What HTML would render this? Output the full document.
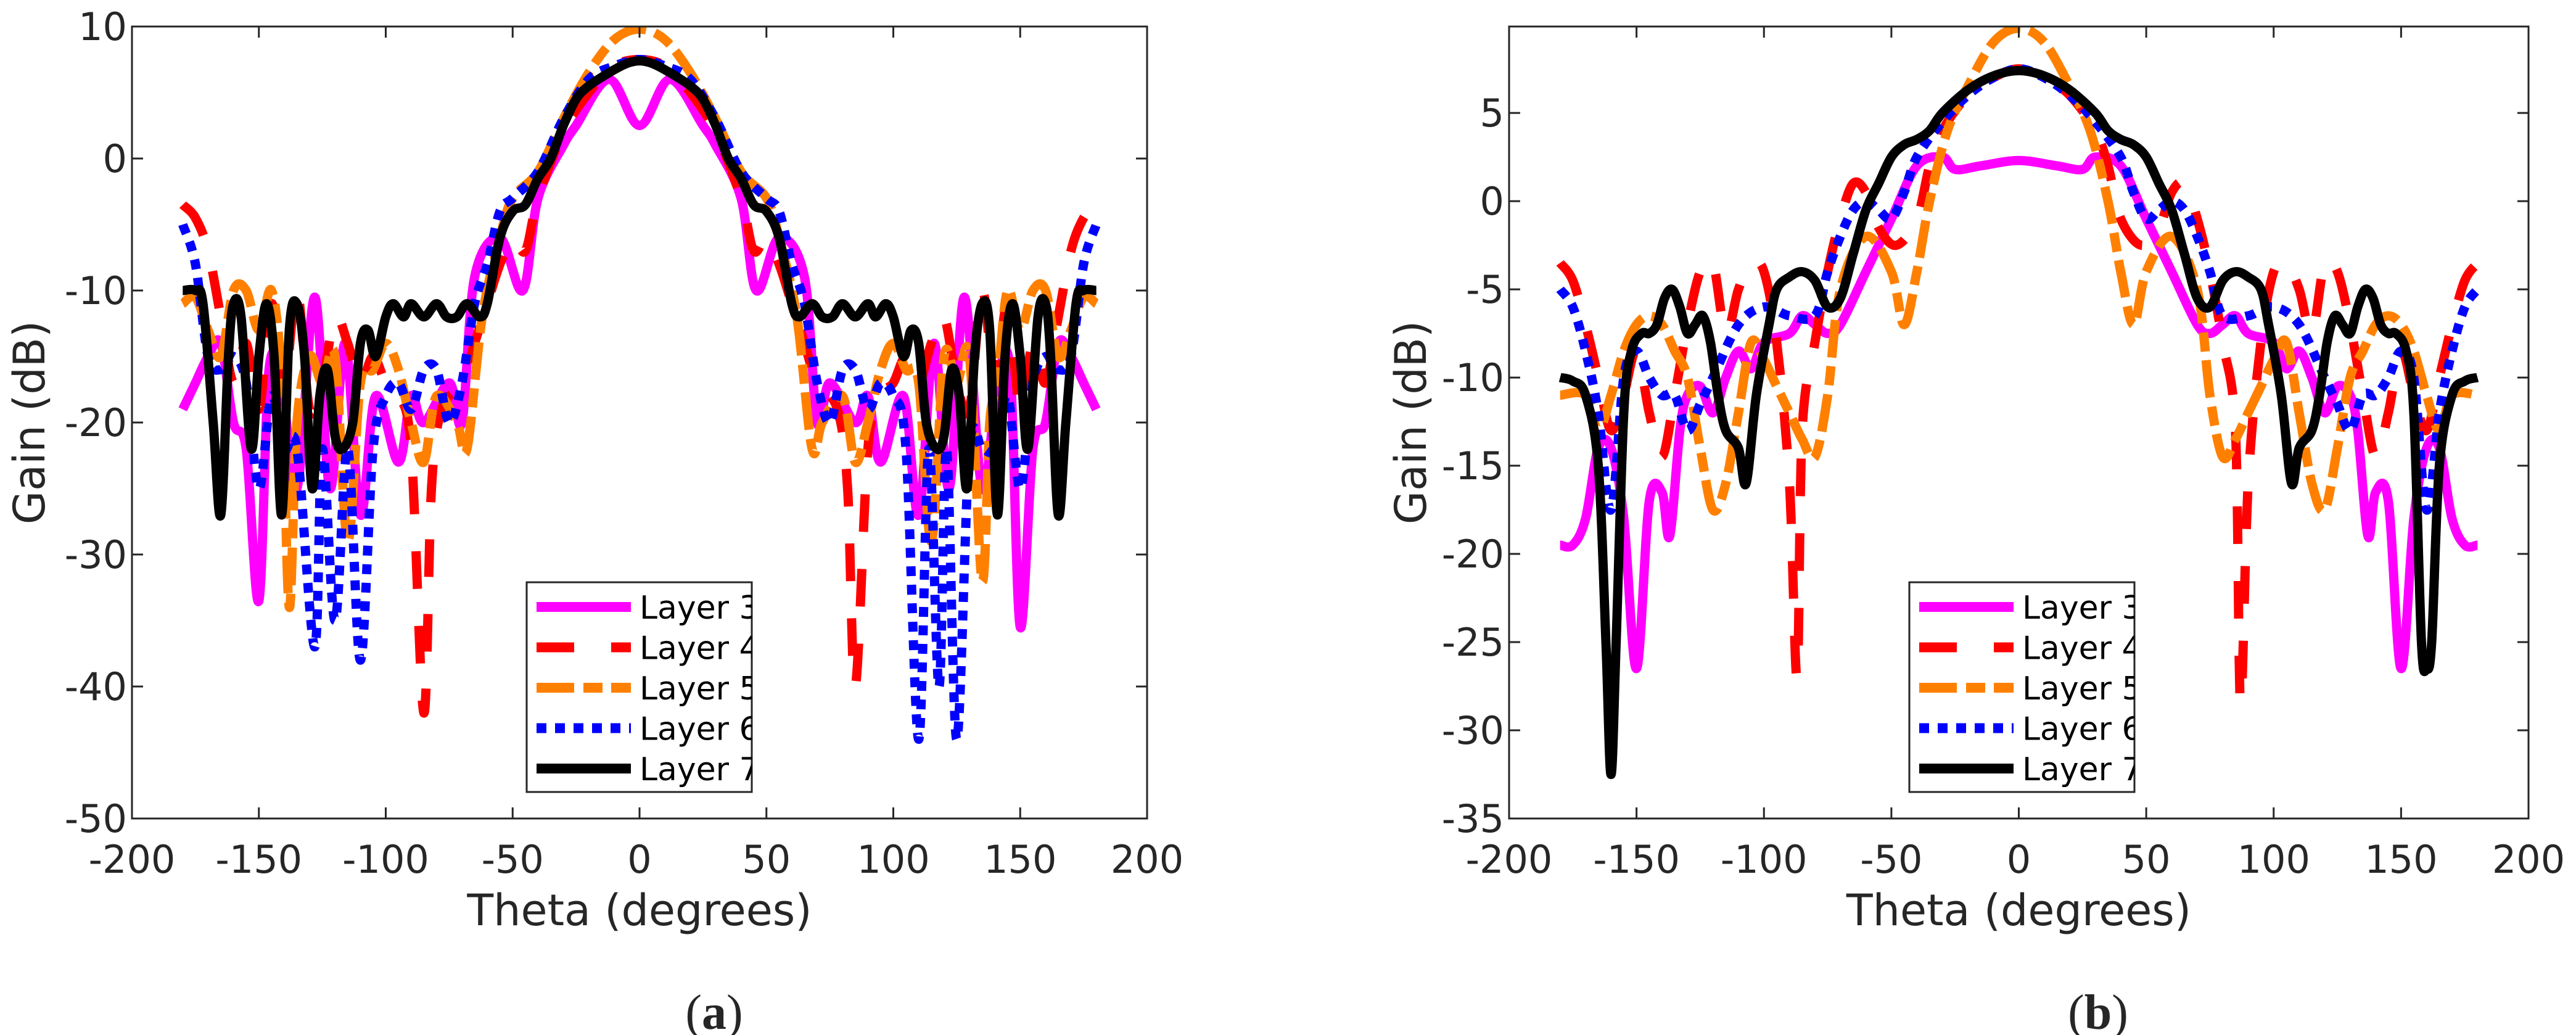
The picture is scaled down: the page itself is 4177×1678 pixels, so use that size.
<!DOCTYPE html>
<html><head><meta charset="utf-8"><style>
html,body{margin:0;padding:0;background:#fff}
svg{display:block}
text{font-family:"DejaVu Sans","Liberation Sans",sans-serif;fill:#262626}
</style></head><body>
<svg id="fig" width="4177" height="1678" viewBox="0 0 4177 1678" xmlns="http://www.w3.org/2000/svg">
<g id="panelA"></g>
<g id="panelB"></g>
</svg>
<script>
const xTicks = [-200,-150,-100,-50,0,50,100,150,200];
const yTicksA = [10,0,-10,-20,-30,-40,-50];
const yTicksB = [5,0,-5,-10,-15,-20,-25,-30,-35];
const legendLabels = ["Layer 3","Layer 4","Layer 5","Layer 6","Layer 7"];

const a3 = [[-180,-19],[-175,-17],[-170,-15],[-165,-14],[-160,-20],[-155,-22],[-150,-33.5],[-146,-16],[-141,-17],[-135,-25],[-128,-10.5],[-122,-25],[-116,-14],[-110,-27],[-104,-18],[-95,-23],[-90,-18],[-85,-20],[-75,-17],[-70,-20],[-65,-9],[-55,-6],[-46,-10],[-40,-3],[-30,1],[-25,2.5],[-12,6],[0,2.5],[12,6],[25,2.5],[30,1],[40,-3],[46,-10],[55,-6],[65,-9],[70,-20],[75,-17],[85,-20],[90,-18],[95,-23],[104,-18],[110,-27],[116,-14],[122,-25],[128,-10.5],[135,-25],[141,-17],[146,-16],[150,-35.5],[155,-22],[160,-20],[165,-14],[170,-15],[175,-17],[180,-19]];
const a4 = [[-180,-3.5],[-175,-4.5],[-170,-7],[-165,-12],[-160,-17],[-155,-14],[-150,-19],[-145,-11],[-140,-17],[-135,-10],[-130,-19],[-125,-17],[-120,-12],[-115,-14],[-110,-17],[-105,-15],[-100,-17],[-95,-18],[-90,-22],[-85,-42],[-82,-25],[-78,-19],[-70,-17],[-65,-14],[-60,-11],[-55,-8],[-50,-6],[-45,-7],[-40,-3],[-30,2],[-20,5],[-10,7],[0,7.5],[10,7],[20,5],[30,2],[40,-3],[45,-7],[50,-6],[55,-8],[60,-11],[65,-14],[70,-17],[78,-19],[82,-25],[85,-40],[90,-22],[95,-18],[100,-17],[105,-15],[110,-17],[115,-14],[120,-12],[125,-17],[130,-19],[135,-10],[140,-17],[145,-11],[150,-19],[155,-14],[160,-17],[165,-12],[170,-7],[175,-4.5],[180,-3.5]];
const a5 = [[-180,-11],[-175,-10.5],[-170,-13],[-165,-15],[-160,-10],[-155,-10],[-150,-13],[-145,-10],[-141,-17],[-138,-34],[-135,-20],[-130,-15],[-125,-17],[-120,-15],[-115,-29],[-110,-17],[-105,-16],[-100,-14],[-95,-16],[-90,-20],[-85,-23],[-80,-18],[-72,-20],[-68,-22],[-62,-12],[-55,-6],[-50,-3],[-40,-1],[-30,3],[-20,6.5],[-10,9],[0,9.8],[10,9],[20,6.5],[30,3],[40,-1],[50,-3],[55,-6],[62,-12],[68,-22],[72,-20],[80,-18],[85,-23],[90,-20],[95,-16],[100,-14],[105,-16],[110,-17],[115,-29],[120,-15],[125,-17],[130,-15],[135,-32],[138,-20],[141,-17],[145,-10],[150,-13],[155,-10],[160,-10],[165,-15],[170,-13],[175,-10.5],[180,-11]];
const a6 = [[-180,-5],[-175,-8],[-170,-15],[-165,-16],[-160,-15],[-155,-17],[-150,-25],[-145,-18],[-140,-22],[-135,-22],[-128,-37],[-125,-22],[-120,-35],[-115,-22],[-110,-38],[-105,-22],[-100,-18],[-95,-17],[-90,-19],[-85,-16],[-80,-16],[-75,-20],[-70,-17],[-65,-11],[-60,-8],[-55,-4],[-50,-3],[-40,-1],[-30,3],[-20,6],[-10,7],[0,7.5],[10,7],[20,6],[30,3],[40,-1],[50,-3],[55,-4],[60,-8],[65,-11],[70,-17],[75,-20],[80,-16],[85,-16],[90,-19],[95,-17],[100,-18],[105,-22],[110,-44],[114,-22],[118,-40],[121,-22],[125,-44],[130,-22],[135,-22],[140,-22],[145,-18],[150,-25],[155,-17],[160,-15],[165,-16],[170,-15],[175,-8],[180,-5]];
const a7 = [[-180,-10],[-175,-10],[-172,-11],[-168,-20],[-165,-27],[-162,-15],[-160,-11],[-157,-12],[-153,-22],[-150,-15],[-147,-11],[-144,-15],[-141,-27],[-138,-13],[-135,-11],[-132,-15],[-129,-25],[-126,-18],[-123,-16],[-120,-21],[-117,-22],[-113,-20],[-110,-14],[-107,-13],[-104,-15],[-100,-12],[-97,-11],[-93,-12],[-90,-11],[-85,-12],[-80,-11],[-76,-12],[-72,-12],[-68,-11],[-63,-12],[-60,-11],[-55,-6],[-50,-4],[-45,-3.5],[-40,-1.5],[-35,0],[-30,2.5],[-25,4.5],[-20,5.5],[-12,6.5],[-5,7.2],[0,7.4],[5,7.2],[12,6.5],[20,5.5],[25,4.5],[30,2.5],[35,0],[40,-1.5],[45,-3.5],[50,-4],[55,-6],[60,-11],[63,-12],[68,-11],[72,-12],[76,-12],[80,-11],[85,-12],[90,-11],[93,-12],[97,-11],[100,-12],[104,-15],[107,-13],[110,-14],[113,-20],[117,-22],[120,-21],[123,-16],[126,-18],[129,-25],[132,-15],[135,-11],[138,-13],[141,-27],[144,-15],[147,-11],[150,-15],[153,-22],[157,-12],[160,-11],[162,-15],[165,-27],[168,-20],[172,-11],[175,-10],[180,-10]];

const b3 = [[-180,-19.5],[-175,-19.5],[-170,-18],[-165,-14],[-160,-14],[-155,-18],[-150,-26.5],[-145,-17],[-140,-16.5],[-137,-19],[-133,-13],[-130,-11],[-125,-10.5],[-120,-12],[-115,-10],[-110,-8.5],[-105,-9.5],[-100,-8],[-90,-7.5],[-85,-6.5],[-80,-7],[-75,-7.5],[-70,-7],[-60,-4],[-50,-1],[-40,2],[-30,2.5],[-25,1.8],[-15,2],[0,2.3],[15,2],[25,1.8],[30,2.5],[40,2],[50,-1],[60,-4],[70,-7],[75,-7.5],[80,-7],[85,-6.5],[90,-7.5],[100,-8],[105,-9.5],[110,-8.5],[115,-10],[120,-12],[125,-10.5],[130,-11],[133,-13],[137,-19],[140,-16.5],[145,-17],[150,-26.5],[155,-18],[160,-14],[165,-14],[170,-18],[175,-19.5],[180,-19.5]];
const b4 = [[-180,-3.5],[-175,-4.5],[-170,-7],[-165,-10],[-160,-13],[-155,-11],[-150,-8.5],[-145,-12],[-140,-14.5],[-135,-11],[-130,-7],[-125,-4],[-120,-3.5],[-115,-7.5],[-110,-5],[-105,-3.5],[-100,-4],[-95,-8],[-90,-16],[-87,-27],[-85,-13],[-80,-8],[-75,-4],[-70,-1],[-65,1],[-60,0.5],[-55,-1.5],[-48,-2.5],[-40,-1],[-35,2],[-30,4],[-20,6],[-10,7],[0,7.5],[10,7],[20,6],[30,4],[35,2],[40,-1],[48,-2.5],[55,-1.5],[60,0.5],[65,1],[70,-1],[75,-4],[80,-8],[85,-13],[87,-28.5],[90,-16],[95,-8],[100,-4],[105,-3.5],[110,-5],[115,-7.5],[120,-3.5],[125,-4],[130,-7],[135,-11],[140,-14.5],[145,-12],[150,-8.5],[155,-11],[160,-13],[165,-10],[170,-7],[175,-4.5],[180,-3.5]];
const b5 = [[-180,-11],[-170,-11],[-165,-13],[-160,-11],[-155,-8.5],[-150,-7],[-145,-6.5],[-140,-7],[-135,-8.5],[-130,-10],[-125,-14],[-120,-17.5],[-115,-16],[-110,-12],[-105,-8],[-100,-9],[-95,-10.5],[-90,-12],[-85,-13.5],[-80,-14.5],[-75,-11],[-70,-5],[-60,-2],[-50,-4],[-45,-7],[-40,-4],[-35,0],[-28,4],[-20,6.5],[-10,9],[0,9.8],[10,9],[20,6.5],[28,4],[35,0],[40,-4],[45,-7],[50,-4],[60,-2],[70,-5],[75,-11],[80,-14.5],[85,-13.5],[90,-12],[95,-10.5],[100,-9],[105,-8],[110,-12],[115,-16],[120,-17.5],[125,-14],[130,-10],[135,-8.5],[140,-7],[145,-6.5],[150,-7],[155,-8.5],[160,-11],[165,-13],[170,-11],[180,-11]];
const b6 = [[-180,-5],[-175,-6],[-170,-8.5],[-165,-12],[-160,-17.5],[-155,-10],[-150,-8.5],[-145,-10],[-140,-11],[-135,-11],[-130,-13],[-125,-11.5],[-120,-10],[-110,-7],[-100,-6],[-90,-6.5],[-80,-6.5],[-75,-4],[-70,-2],[-65,-0.5],[-60,0],[-55,-0.5],[-50,-1],[-45,0.5],[-40,2.5],[-30,4.5],[-20,6],[-10,7],[0,7.5],[10,7],[20,6],[30,4.5],[40,2.5],[45,0.5],[50,-1],[55,-0.5],[60,0],[65,-0.5],[70,-2],[75,-4],[80,-6.5],[90,-6.5],[100,-6],[110,-7],[120,-10],[125,-11.5],[130,-13],[135,-11],[140,-11],[145,-10],[150,-8.5],[155,-10],[160,-17.5],[165,-12],[170,-8.5],[175,-6],[180,-5]];
const b7 = [[-180,-10],[-175,-10.2],[-170,-11],[-165,-15],[-162,-25],[-160,-32.5],[-158,-25],[-155,-12],[-152,-8.5],[-148,-7.5],[-145,-7.5],[-142,-7],[-139,-5.5],[-136,-5],[-133,-6],[-130,-7.5],[-127,-7],[-124,-6.5],[-121,-8],[-118,-11],[-115,-13],[-110,-14],[-107,-16],[-103,-11],[-98,-7],[-95,-5],[-90,-4.3],[-85,-4],[-80,-4.5],[-75,-6],[-70,-5.5],[-65,-3],[-60,-0.5],[-55,1],[-50,2.5],[-45,3.2],[-40,3.5],[-35,4],[-30,5],[-20,6.3],[-10,7.1],[0,7.4],[10,7.1],[20,6.3],[30,5],[35,4],[40,3.5],[45,3.2],[50,2.5],[55,1],[60,-0.5],[65,-3],[70,-5.5],[75,-6],[80,-4.5],[85,-4],[90,-4.3],[95,-5],[98,-7],[103,-11],[107,-16],[110,-14],[115,-13],[118,-11],[121,-8],[124,-6.5],[127,-7],[130,-7.5],[133,-6],[136,-5],[139,-5.5],[142,-7],[145,-7.5],[148,-7.5],[152,-8.5],[155,-12],[158,-25],[160,-26.5],[162,-25],[165,-15],[170,-11],[175,-10.2],[180,-10]];

const seriesA = [a3,a4,a5,a6,a7];
const seriesB = [b3,b4,b5,b6,b7];

const colors = ["#ff00ff","#ff0000","#ff8000","#0000ff","#000000"];
const dashes = ["none","61 60","61 15 31 14","16 14","none"];
const names = ["layer-3","layer-4","layer-5","layer-6","layer-7"];

const NS = "http://www.w3.org/2000/svg";
function mk(tag, attrs, parent){
  const e = document.createElementNS(NS, tag);
  for (const k in attrs) e.setAttribute(k, attrs[k]);
  parent.appendChild(e);
  return e;
}
function smoothPath(pts){
  let d = "M" + pts[0][0].toFixed(1) + "," + pts[0][1].toFixed(1);
  for (let i=0;i<pts.length-1;i++){
    const p0 = pts[Math.max(0,i-1)], p1 = pts[i], p2 = pts[i+1], p3 = pts[Math.min(pts.length-1,i+2)];
    const c1x = p1[0]+(p2[0]-p0[0])/6, c1y = p1[1]+(p2[1]-p0[1])/6;
    const c2x = p2[0]-(p3[0]-p1[0])/6, c2y = p2[1]-(p3[1]-p1[1])/6;
    d += " C"+c1x.toFixed(1)+","+c1y.toFixed(1)+" "+c2x.toFixed(1)+","+c2y.toFixed(1)+" "+p2[0].toFixed(1)+","+p2[1].toFixed(1);
  }
  return d;
}

function drawPanel(g, cfg){
  const L=cfg.left, R=cfg.right, T=cfg.top, B=cfg.bottom;
  const xS = v => L + (v - (-200)) / 400 * (R - L);
  const yS = v => B - (v - cfg.ymin) / (cfg.ymax - cfg.ymin) * (B - T);
  const clipId = "clip"+cfg.id;
  const defs = mk("defs",{},g);
  const cp = mk("clipPath",{id:clipId},defs);
  mk("rect",{x:L,y:T,width:R-L,height:B-T},cp);
  const lg = mk("clipPath",{id:"lclip"+cfg.id},defs);
  mk("rect",{x:cfg.legX,y:cfg.legY,width:cfg.legW,height:cfg.legH},lg);

  const sg = mk("g",{"clip-path":"url(#"+clipId+")"},g);
  
  
  cfg.series.forEach((s,i)=>{
    const pts = s.map(p=>[xS(p[0]), yS(p[1])]);
    const p = mk("path",{d:smoothPath(pts),fill:"none",stroke:colors[i],"stroke-width":15,"stroke-dasharray":dashes[i],"stroke-linejoin":"round"},sg);
    
    
  });

  const box = mk("rect",{x:L,y:T,width:R-L,height:B-T,fill:"none",stroke:"#262626","stroke-width":3},g);
  
  

  xTicks.forEach(v=>{
    const x = xS(v);
    mk("line",{x1:x,y1:B,x2:x,y2:B-18,stroke:"#262626","stroke-width":3},g);
    mk("line",{x1:x,y1:T,x2:x,y2:T+18,stroke:"#262626","stroke-width":3},g);
    const t = mk("text",{x:x,y:1415,"text-anchor":"middle","font-size":62},g);
    t.textContent = v;
    
    
  });
  cfg.yTicks.forEach(v=>{
    const y = yS(v);
    mk("line",{x1:L,y1:y,x2:L+18,y2:y,stroke:"#262626","stroke-width":3},g);
    mk("line",{x1:R,y1:y,x2:R-18,y2:y,stroke:"#262626","stroke-width":3},g);
    const t = mk("text",{x:L-8,y:y+22,"text-anchor":"end","font-size":62},g);
    t.textContent = v;
    
    
  });

  const xl = mk("text",{x:(L+R)/2,y:1500,"text-anchor":"middle","font-size":70},g);
  xl.textContent = "Theta (degrees)";
  
  
  const yl = mk("text",{x:0,y:0,"text-anchor":"middle","font-size":70,transform:"translate("+(cfg.ylabX)+","+((T+B)/2)+") rotate(-90)"},g);
  yl.textContent = "Gain (dB)";
  
  

  const cap = mk("text",{x:cfg.capX,y:1668,"text-anchor":"middle","font-size":80,style:"font-family:'Liberation Serif',serif"},g);
  const t1 = mk("tspan",{},cap); t1.textContent="(";
  const t2 = mk("tspan",{"font-weight":"bold"},cap); t2.textContent=cfg.cap;
  const t3 = mk("tspan",{},cap); t3.textContent=")";
  
  

  const leg = mk("g",{},g);
  
  
  mk("rect",{x:cfg.legX,y:cfg.legY,width:cfg.legW,height:cfg.legH,fill:"#fff",stroke:"#262626","stroke-width":3},leg);
  const lt = mk("g",{"clip-path":"url(#lclip"+cfg.id+")"},leg);
  legendLabels.forEach((lab,i)=>{
    const cy = cfg.legY + 40 + i*65.5;
    const ln = mk("line",{x1:cfg.legX+16,y1:cy,x2:cfg.legX+169,y2:cy,stroke:colors[i],"stroke-width":16,"stroke-dasharray":dashes[i]},lt);
    
    
    const tx = mk("text",{x:cfg.legX+183,y:cy+19,"font-size":52,style:"fill:#000"},lt);
    tx.textContent = lab;
    
    
  });
}

drawPanel(document.getElementById("panelA"),{id:"A",left:214,right:1860,top:43,bottom:1327,ymin:-50,ymax:10,yTicks:yTicksA,series:seriesA,ylabX:72,capX:1158,cap:"a",legX:854,legY:944,legW:365,legH:340});
drawPanel(document.getElementById("panelB"),{id:"B",left:2447,right:4100,top:43,bottom:1327,ymin:-35,ymax:9.9,yTicks:yTicksB,series:seriesB,ylabX:2312,capX:3402,cap:"b",legX:3096,legY:944,legW:365,legH:340});
</script>
</body></html>
